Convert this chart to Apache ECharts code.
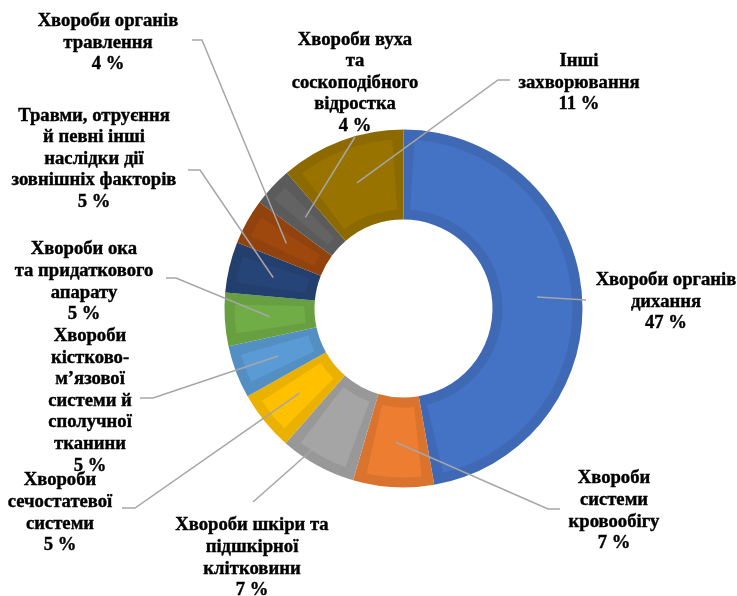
<!DOCTYPE html>
<html>
<head>
<meta charset="utf-8">
<script src="https://cdn.jsdelivr.net/npm/echarts@6/dist/echarts.min.js"></script>
<style>
  html, body { margin: 0; padding: 0; background: #ffffff; }
  #chart { width: 737px; height: 596px; }
</style>
</head>
<body>
<div id="chart"></div>
<script>
// ---- data ----
const categories = [
  'Хвороби органів\nдихання',
  'Хвороби\nсистеми\nкровообігу',
  'Хвороби шкіри та\nпідшкірної\nклітковини',
  'Хвороби\nсечостатевої\nсистеми',
  'Хвороби\nкістково-\nм’язової\nсистеми й\nсполучної\nтканини',
  'Хвороби ока\nта придаткового\nапарату',
  'Травми, отруєння\nй певні інші\nнаслідки дії\nзовнішніх факторів',
  'Хвороби органів\nтравлення',
  'Хвороби вуха\nта\nсоскоподібного\nвідростка',
  'Інші\nзахворювання'
];
const shares = [47.3, 7.3, 6.9, 5.4, 4.8, 4.8, 4.6, 4.1, 3.6, 11.3];

// ---- styles / layout (not data) ----
const faceColors = ['#4472C4', '#ED7D31', '#A5A5A5', '#FFC000', '#5B9BD5', '#70AD47', '#264478', '#9E480E', '#636363', '#997300'];
const edgeColors = ['#3F69B4', '#DA732D', '#989898', '#EBB100', '#548FC4', '#679F41', '#233F6E', '#91420D', '#5B5B5B', '#8D6A00'];
const labelCenters = [
  [666, 302], [614, 511], [252, 558], [60, 513], [90, 401],
  [84, 282], [94, 159], [108, 43], [355, 83], [579, 83]
];
const leaderPaths = [
  [[586, 300]],
  [[548, 509], [560, 509]],
  [[253, 502]],
  [[135, 508], [122, 508]],
  [[153, 398], [140, 398]],
  [[176, 278], [166, 278]],
  [[200, 170], [188, 170]],
  [[202, 40], [192, 40]],
  [[355, 137]],
  [[498, 80], [510, 80]]
];

const chart = echarts.init(document.getElementById('chart'), null, { renderer: 'canvas' });

function anchorOf(idx) {
  try {
    const lay = chart.getModel().getSeriesByIndex(2).getData().getItemLayout(idx);
    const a = (lay.startAngle + lay.endAngle) / 2;
    const rm = (lay.r + lay.r0) / 2;
    return [lay.cx + rm * Math.cos(a), lay.cy + rm * Math.sin(a)];
  } catch (e) {
    return null;
  }
}

const center = [403.5, 308.5];
const ring = [89, 179];

function pieData(colorFn) {
  return categories.map((n, i) => ({
    name: n,
    value: shares[i],
    itemStyle: { color: colorFn(i) }
  }));
}

const option = {
  animation: false,
  backgroundColor: '#ffffff',
  series: [
    {
      type: 'pie',
      center: center,
      radius: ring,
      startAngle: 90,
      clockwise: true,
      silent: true,
      z: 2,
      data: pieData(i => edgeColors[i]),
      label: { show: false },
      labelLine: { show: false },
      emphasis: { disabled: true }
    },
    {
      type: 'pie',
      center: center,
      radius: [99, 169],
      startAngle: 90,
      clockwise: true,
      padAngle: 7.5,
      silent: true,
      z: 3,
      data: pieData(i => faceColors[i]),
      label: { show: false },
      labelLine: { show: false },
      emphasis: { disabled: true }
    },
    {
      type: 'pie',
      center: center,
      radius: ring,
      startAngle: 90,
      clockwise: true,
      silent: true,
      z: 4,
      avoidLabelOverlap: false,
      data: pieData(() => 'rgba(0,0,0,0)'),
      label: {
        show: true,
        position: 'outside',
        fontFamily: 'Liberation Serif',
        fontWeight: 'bold',
        fontSize: 18.67,
        lineHeight: 21.6,
        color: '#000000',
        textBorderColor: '#000000',
        textBorderWidth: 0.4,
        align: 'center',
        formatter: p => p.name + '\n' + Math.round(p.percent) + ' %'
      },
      labelLine: {
        show: true,
        lineStyle: { color: '#A6A6A6', width: 1.5 }
      },
      labelLayout: function (params) {
        const i = params.dataIndex;
        const anc = anchorOf(i);
        const res = {
          x: labelCenters[i][0],
          y: labelCenters[i][1],
          align: 'center',
          verticalAlign: 'middle',
          hideOverlap: false
        };
        if (anc) {
          res.labelLinePoints = [anc].concat(leaderPaths[i]);
        }
        return res;
      },
      emphasis: { disabled: true }
    }
  ]
};

chart.setOption(option);
</script>
</body>
</html>
